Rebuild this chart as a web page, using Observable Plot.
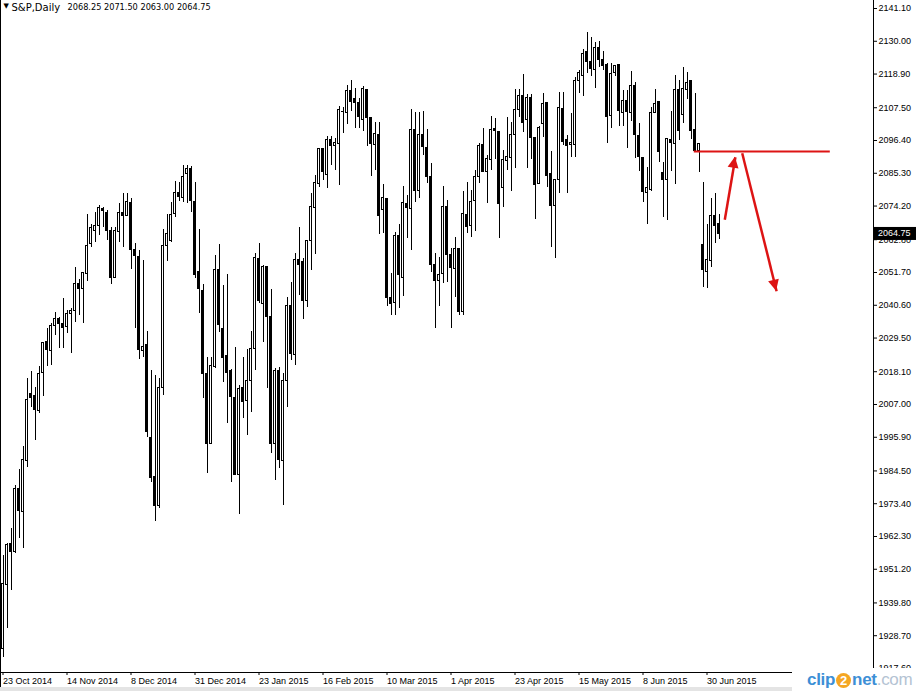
<!DOCTYPE html>
<html>
<head>
<meta charset="utf-8">
<script src="https://cdn.jsdelivr.net/npm/d3@7"></script>
<script src="https://cdn.jsdelivr.net/npm/@observablehq/plot@0.6"></script>
<style>
  html, body { margin: 0; padding: 0; background: #ffffff; }
  #wrap { position: relative; width: 916px; height: 691px; overflow: hidden; background: #ffffff; }
  #leftline { position: absolute; left: 0; top: 0; width: 1px; height: 687px; background: #000; }
  #strip { position: absolute; left: 0; top: 687px; width: 792px; height: 4px; background: #e4e4e4; }
  #logo { position: absolute; left: 792px; top: 668px; width: 124px; height: 23px; background: #fff; white-space: nowrap;
          font-family: "Liberation Sans", Arial, sans-serif; font-weight: bold; font-size: 17px; line-height: 23px; letter-spacing: -0.3px; }
  #logo .b { color: #3d8fd6; }
  #logo .two { display: inline-block; width: 15px; height: 15px; border-radius: 8px; background: #f5a623; color: #fff;
               text-align: center; line-height: 15px; font-size: 13px; vertical-align: 0px; margin: 0 1px; letter-spacing: 0; }
  #logo .c { color: #b4c3d3; font-weight: normal; }
</style>
</head>
<body>
<div id="wrap"><div id="leftline"></div><div id="strip"></div></div>
<script>
// ---- data ----
const opens = [1924.3,1945.9,1959.8,1957.0,1978.4,1970.5,1988.0,2010.6,2009.8,2004.7,2017.7,2028.1,2025.1,2033.6,2035.8,2034.1,2033.2,2037.7,2038.5,2047.9,
2046.2,2051.2,2061.4,2065.9,2067.3,2073.3,2071.8,2065.9,2049.8,2065.4,2071.8,2071.0,2075.4,2059.4,2057.0,2025.1,2027.0,1995.6,1982.6,1972.6,
2012.6,2060.8,2062.3,2071.6,2078.6,2076.9,2085.1,2086.8,2075.7,2052.0,2045.6,2017.4,1993.7,2019.6,2052.7,2032.6,2023.3,2018.3,2009.3,1983.0,
2012.6,2008.1,2014.8,2025.8,2056.3,2041.1,2053.7,2036.6,1993.7,2018.5,1988.0,2014.8,2040.5,2023.8,2055.8,2055.4,2042.2,2062.2,2073.5,2081.7,
2093.4,2084.8,2096.7,2094.4,2095.3,2106.0,2105.7,2113.1,2110.3,2109.0,2103.4,2113.6,2104.1,2095.0,2098.3,2072.7,2076.6,2043.1,2041.4,2064.2,
2049.9,2074.9,2073.3,2099.8,2079.2,2098.4,2093.9,2084.2,2054.1,2048.8,2051.2,2073.8,2057.5,2052.9,2059.5,2038.3,2071.3,2067.4,2075.9,2084.0,
2094.9,2085.7,2089.9,2100.4,2099.4,2080.4,2089.6,2090.5,2098.3,2106.8,2111.6,2103.2,2110.9,2097.3,2081.7,2102.0,2109.0,2084.9,2074.2,2083.1,
2107.1,2096.4,2094.9,2095.0,2116.5,2118.4,2126.3,2123.1,2120.3,2127.8,2123.5,2122.0,2104.6,2119.3,2121.8,2105.8,2109.9,2105.8,2114.7,2097.8,
2090.5,2078.7,2079.7,2105.7,2109.4,2085.5,2082.9,2096.7,2095.3,2113.6,2105.1,2113.6,2116.5,2100.1,2093.0,2061.1,2051.8,2055.5,2070.7,2068.25];
const highs = [1955.9,1960.0,1964.9,1979.6,1984.9,1992.8,2015.7,2018.3,2012.9,2019.7,2028.1,2032.6,2034.3,2038.0,2036.6,2042.8,2038.8,2039.4,2053.3,2049.3,
2051.6,2071.3,2068.0,2072.1,2074.4,2073.8,2072.7,2067.1,2067.1,2075.2,2078.3,2078.3,2076.7,2061.4,2059.2,2055.8,2031.7,2018.5,2016.8,2015.9,
2066.3,2071.2,2075.5,2082.6,2082.3,2087.9,2087.9,2087.6,2082.1,2066.3,2047.5,2022.8,2022.8,2057.4,2061.2,2047.3,2051.0,2018.7,2026.4,2013.6,
2022.8,2025.5,2031.7,2058.3,2061.4,2054.1,2053.7,2045.8,2019.1,2019.6,2017.4,2043.3,2048.4,2058.0,2067.1,2056.3,2062.2,2078.3,2084.5,2093.6,
2093.4,2097.8,2097.8,2097.0,2107.9,2107.7,2115.0,2116.7,2113.9,2110.5,2114.8,2113.6,2104.1,2102.6,2102.6,2081.4,2076.9,2051.3,2065.4,2067.9,
2080.8,2077.8,2106.8,2105.8,2106.0,2106.2,2100.1,2088.5,2058.3,2056.9,2080.8,2076.1,2059.7,2063.7,2059.5,2079.2,2082.3,2079.5,2086.2,2095.5,
2100.6,2091.3,2104.5,2103.7,2099.4,2093.0,2104.1,2102.6,2113.6,2113.6,2118.7,2111.9,2111.9,2097.3,2101.1,2112.2,2109.0,2092.7,2082.9,2112.8,
2112.8,2098.1,2105.4,2117.6,2120.1,2127.1,2132.9,2131.2,2129.7,2130.0,2126.6,2122.4,2122.4,2121.8,2122.1,2113.3,2113.3,2119.9,2116.2,2102.0,
2090.5,2087.4,2107.7,2113.7,2109.4,2088.8,2097.0,2106.2,2118.4,2116.7,2121.2,2119.5,2116.5,2112.2,2095.3,2082.3,2067.8,2076.6,2078.5,2071.5];
const lows = [1921.4,1931.0,1944.0,1956.4,1961.5,1958.3,1985.8,2006.1,1994.8,2003.8,2009.8,2019.7,2020.3,2030.4,2026.1,2025.9,2030.9,2024.4,2034.9,2037.1,
2034.5,2048.8,2060.0,2062.0,2064.2,2067.1,2062.5,2047.6,2049.8,2062.0,2060.1,2070.7,2052.8,2032.6,2022.2,2023.0,1995.9,1980.7,1967.5,1971.7,
2010.0,2055.5,2062.0,2070.4,2075.9,2075.5,2075.2,2072.1,2049.8,2037.9,2008.9,1983.5,1993.7,2019.1,2031.5,2014.5,2000.4,1980.5,1983.0,1969.6,
2002.1,1996.5,2004.4,2018.5,2041.3,2028.1,2012.3,1990.5,1981.3,1985.4,1972.8,2006.1,2021.9,2020.2,2043.9,2035.7,2039.7,2052.4,2057.7,2080.6,
2082.9,2080.0,2087.9,2086.2,2081.2,2098.9,2101.8,2106.3,2100.4,2100.4,2099.6,2094.5,2084.3,2086.2,2064.5,2065.0,2040.2,2037.1,2037.1,2039.4,
2043.6,2063.3,2059.1,2075.5,2076.9,2091.3,2081.9,2051.6,2032.6,2040.2,2048.1,2048.4,2032.9,2043.4,2037.1,2037.1,2064.8,2063.7,2065.6,2082.0,
2085.7,2074.9,2086.2,2089.9,2063.3,2073.8,2086.2,2079.2,2086.8,2104.3,2099.2,2087.0,2089.9,2069.5,2081.5,2097.3,2080.6,2060.3,2056.3,2078.3,
2094.7,2078.3,2090.8,2090.8,2112.2,2111.4,2119.0,2118.2,2114.1,2121.2,2120.1,2095.3,2100.4,2118.2,2101.1,2101.1,2093.6,2102.9,2090.2,2086.0,
2075.5,2067.8,2079.2,2105.7,2089.1,2070.4,2069.3,2085.9,2081.4,2096.4,2102.0,2110.3,2096.7,2092.5,2085.5,2046.5,2046.2,2053.5,2061.4,2063.0];
const closes = [1946.3,1959.5,1957.0,1978.4,1971.1,1988.3,2008.6,2009.3,2005.2,2017.4,2027.9,2025.3,2033.6,2035.8,2034.3,2032.9,2037.7,2038.8,2047.9,2046.2,
2051.6,2060.6,2066.8,2067.6,2073.6,2072.5,2065.7,2049.8,2065.6,2071.8,2070.9,2075.7,2059.4,2057.2,2025.3,2026.6,1997.6,1982.1,1972.6,2012.6,
2060.8,2064.6,2071.3,2078.6,2077.2,2084.2,2086.8,2075.8,2050.7,2046.2,2017.4,1993.7,2019.9,2052.7,2034.0,2022.8,2017.6,2009.5,1983.0,2012.1,
2007.8,2014.8,2025.8,2056.7,2042.2,2053.7,2036.6,1993.7,2018.5,1988.3,2014.8,2040.5,2024.2,2055.8,2054.1,2042.2,2062.2,2073.8,2082.1,2093.6,
2085.7,2096.6,2094.7,2095.6,2106.8,2106.2,2113.3,2109.6,2109.0,2104.3,2113.7,2104.1,2095.3,2098.7,2070.8,2077.0,2043.1,2041.1,2064.2,2050.9,
2075.3,2073.5,2100.0,2079.2,2098.1,2094.1,2084.0,2054.3,2048.8,2050.9,2073.8,2057.5,2053.2,2059.7,2038.3,2071.6,2067.0,2075.7,2084.2,2094.7,
2085.7,2090.0,2100.1,2099.6,2074.9,2089.9,2090.8,2098.4,2106.6,2111.6,2102.4,2110.9,2097.3,2081.4,2100.7,2108.6,2084.3,2074.2,2082.9,2107.5,
2095.8,2094.7,2095.6,2116.7,2119.3,2125.7,2122.9,2120.7,2127.8,2123.7,2121.5,2104.3,2119.0,2121.5,2106.3,2109.9,2106.0,2114.8,2098.1,2090.8,
2078.9,2080.3,2105.8,2108.8,2092.5,2083.1,2097.0,2095.6,2113.6,2099.5,2113.9,2115.9,2099.5,2093.0,2095.3,2052.4,2056.0,2071.0,2067.6,2064.75];

const xTickIndex  = [0, 16, 32, 48, 64, 80, 96, 112, 128, 144, 160, 176];
const xTickLabels = ["23 Oct 2014","14 Nov 2014","8 Dec 2014","31 Dec 2014","23 Jan 2015","16 Feb 2015",
                     "10 Mar 2015","1 Apr 2015","23 Apr 2015","15 May 2015","8 Jun 2015","30 Jun 2015"];
const yTicks = [2141.10,2130.00,2118.90,2107.50,2096.40,2085.30,2074.20,2062.80,2051.70,2040.60,2029.50,
                2018.10,2007.00,1995.90,1984.50,1973.40,1962.30,1951.20,1939.80,1928.70,1917.60];

const symbolName = "S&P,Daily";
const lastQuote = [2068.25, 2071.50, 2063.00, 2064.75];

// annotation drawn on the chart (bar index, price)
const levelLine  = [{x1: 172.7, x2: 206.7, y: 2092.7}];
const arrowShafts = [
  {x1: 180.45, y1: 2069.55, x2: 183.1, y2: 2090.74},
  {x1: 184.8,  y1: 2092.1,  x2: 193.4, y2: 2045.37}
];

// ---- build table ----
const candles = opens.map((o, i) => ({i, open: o, high: highs[i], low: lows[i], close: closes[i]}));
const red = "#dd1414";
const titleFont = "'DejaVu Sans', Verdana, sans-serif";

const chart = Plot.plot({
  width: 916, height: 691,
  marginLeft: 0, marginRight: 43, marginTop: 0, marginBottom: 19,
  style: {fontFamily: "'Liberation Sans', Arial, sans-serif", fontSize: "9px", background: "transparent", overflow: "visible", color: "#000"},
  x: {domain: [-0.625, 217.625], axis: null},
  y: {domain: [1916.24, 2143.81], axis: null},
  color: {type: "identity"},
  marks: [
    Plot.ruleX(candles, {x: "i", y1: "low", y2: "high", stroke: "#000", strokeWidth: 1, shapeRendering: "crispEdges"}),
    Plot.rect(candles, {x1: d => d.i - 0.25, x2: d => d.i + 0.25, y1: "open", y2: "close",
      fill: d => d.close >= d.open ? "#ffffff" : "#000000", stroke: "#000", strokeWidth: 1, shapeRendering: "crispEdges"}),
    Plot.link(levelLine, {x1: "x1", x2: "x2", y1: "y", y2: "y", stroke: red, strokeWidth: 2}),
    Plot.link(arrowShafts, {x1: "x1", y1: "y1", x2: "x2", y2: "y2", stroke: red, strokeWidth: 2.5}),
    Plot.frame({anchor: "right", stroke: "#000", shapeRendering: "crispEdges"}),
    Plot.frame({anchor: "bottom", stroke: "#000", shapeRendering: "crispEdges"}),
    Plot.axisY(yTicks, {anchor: "right", tickSize: 3, tickPadding: 2, tickFormat: d => d.toFixed(2), stroke: "#000"}),
    Plot.axisX(xTickIndex, {anchor: "bottom", tickSize: 3, tickPadding: 2, textAnchor: "start", dx: 0,
      tickFormat: (d) => xTickLabels[xTickIndex.indexOf(d)], stroke: "#000"}),
    Plot.text(["▼"], {frameAnchor: "top-left", dx: 3, dy: 3, textAnchor: "start", lineAnchor: "top", fontSize: 7, fontFamily: titleFont}),
    Plot.text([symbolName], {frameAnchor: "top-left", dx: 11, dy: 3, textAnchor: "start", lineAnchor: "top", fontSize: 10, fontFamily: titleFont}),
    Plot.text([lastQuote.map(v => v.toFixed(2)).join(" ")], {frameAnchor: "top-left", dx: 67, dy: 3.5, textAnchor: "start", lineAnchor: "top", fontSize: 8.2, fontFamily: titleFont})
  ]
});

document.getElementById("wrap").appendChild(chart);
chart.style.position = "absolute";
chart.style.left = "0px";
chart.style.top = "0px";

// arrowheads and current-price tag, positioned through Plot's scales
const sx = chart.scale("x"), sy = chart.scale("y");
const svg = d3.select(chart);
arrowShafts.forEach(a => {
  const tx = sx.apply(a.x2), ty = sy.apply(a.y2);
  const fx = sx.apply(a.x1), fy = sy.apply(a.y1);
  const ang = Math.atan2(ty - fy, tx - fx);
  const L = 11, W = 5.5;
  const bx = tx - L * Math.cos(ang), by = ty - L * Math.sin(ang);
  const px = -Math.sin(ang) * W, py = Math.cos(ang) * W;
  svg.append("polygon")
    .attr("points", `${tx},${ty} ${bx + px},${by + py} ${bx - px},${by - py}`)
    .attr("fill", red);
});
const lastY = sy.apply(lastQuote[3]);
const xr = sx.range[1];
svg.append("rect").attr("x", xr + 1).attr("y", lastY - 6.5).attr("width", 916 - xr - 1).attr("height", 13).attr("fill", "#000");
svg.append("text").attr("x", xr + 5).attr("y", lastY).attr("dy", "0.32em").attr("text-anchor", "start")
  .attr("fill", "#fff").attr("font-size", 9).attr("font-family", "'Liberation Sans', Arial, sans-serif")
  .text(lastQuote[3].toFixed(2));

// logo overlay
const logo = document.createElement("div");
logo.id = "logo";
logo.innerHTML = '<span style="margin-left:15px" class="b">clip</span><span class="two">2</span><span class="b">net</span><span class="c">.com</span>';
document.getElementById("wrap").appendChild(logo);
</script>
</body>
</html>
